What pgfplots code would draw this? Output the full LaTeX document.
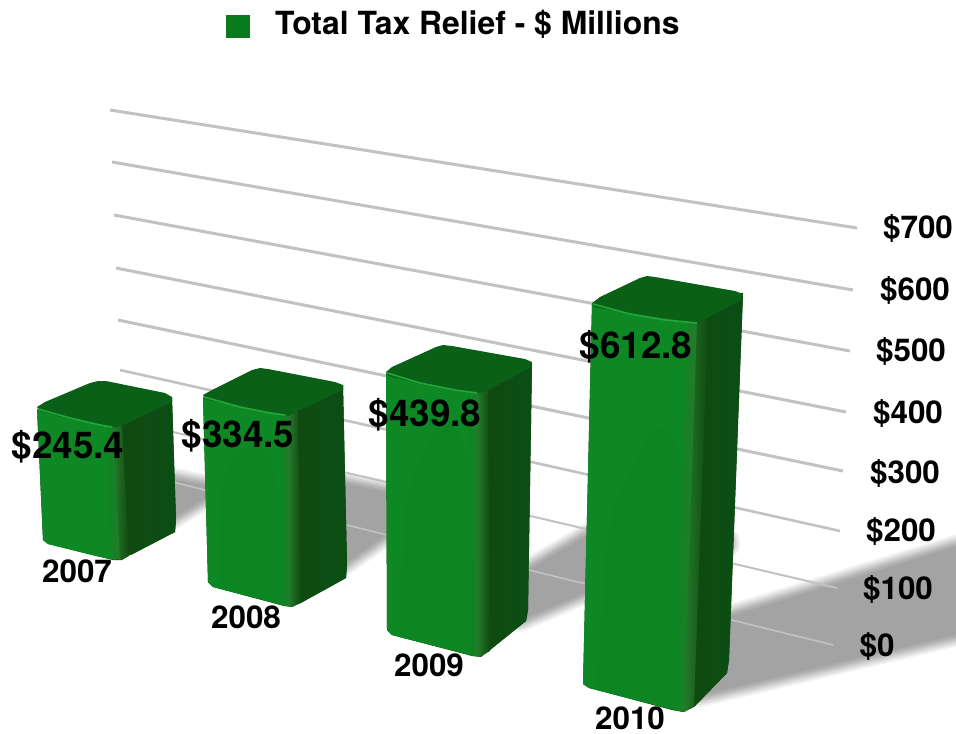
\documentclass[border=0pt]{standalone}
\usepackage{fontspec}
\setmainfont{TeX Gyre Heros}
\usepackage{pgfplots}
\pgfplotsset{compat=1.18}

\definecolor{legendgreen}{HTML}{0A7A1E}
\definecolor{frontgreen}{HTML}{0D8824}
\definecolor{sheen}{HTML}{0C8522}
\definecolor{ridgegreen}{HTML}{267A2C}
\definecolor{sidedark}{HTML}{104A10}
\definecolor{sideedge}{HTML}{0A4E14}
\definecolor{topgreen}{HTML}{0B6018}
\definecolor{hilite}{HTML}{22A83A}
\definecolor{gridgray}{HTML}{C2C2C2}

\pgfplotsset{
  base/.style={forget plot,draw=none,fill=sidedark},
  front/.style={forget plot,draw=none,fill=frontgreen},
  sheenface/.style={forget plot,draw=none,fill=sheen,smooth},
  stripa/.style={forget plot,draw=none,left color=sheen,right color=ridgegreen},
  stripb/.style={forget plot,draw=none,left color=ridgegreen,right color=sidedark},
  side/.style={forget plot,draw=none,left color=sidedark,right color=sideedge},
  topface/.style={forget plot,draw=none,fill=topgreen},
  edge/.style={forget plot,draw=hilite,line width=1.6bp,no marks},
  gridln/.style={forget plot,draw=gridgray,no marks,line width=#1},
}
\tikzset{
  val/.style={font=\fontsize{37}{37}\selectfont\bfseries,inner sep=0pt},
  yr/.style={font=\fontsize{31.5}{32}\selectfont\bfseries,inner sep=0pt},
}

% soft shadow: same polygons stroked wide, lightest first
\newcommand{\shadowlevel}[2]{%
  \addplot[forget plot,fill=#2,draw=#2,line width=#1,line join=round] coordinates {(165,478)(205,486)(205,498)(165,522)} --cycle;
  \addplot[forget plot,fill=#2,draw=#2,line width=#1,line join=round] coordinates {(320,500)(345,484)(385,492)(385,535)(345,563)(320,580)} --cycle;
  \addplot[forget plot,fill=#2,draw=#2,line width=#1,line join=round] coordinates {(520,575)(590,534)(728,540)(728,545)(590,590)(520,620)} --cycle;
  \addplot[forget plot,fill=#2,draw=#2,line width=#1,line join=round] coordinates {(700,626)(975,541)(975,630)(700,695)} --cycle;
}

\begin{document}
\begin{tikzpicture}
\useasboundingbox (0,0) rectangle (956bp,734bp);
\begin{axis}[
    at={(0,0)},anchor=south west,
    scale only axis,
    width=956bp,height=734bp,
    xmin=0,xmax=956,ymin=0,ymax=734,
    y dir=reverse,
    hide axis,
  ]

  \shadowlevel{24bp}{black!5}
  \shadowlevel{20bp}{black!11}
  \shadowlevel{16bp}{black!17}
  \shadowlevel{12bp}{black!23}
  \shadowlevel{8bp}{black!29}
  \shadowlevel{4bp}{black!33}
  \shadowlevel{0.1bp}{black!36}

  % gridlines $700 ... $0
  \addplot[gridln=3bp] coordinates {(110,110)(857,228)};
  \addplot[gridln=3bp] coordinates {(112,162)(853,290)};
  \addplot[gridln=3bp] coordinates {(114,215)(850,351)};
  \addplot[gridln=3bp] coordinates {(116,268)(846,412)};
  \addplot[gridln=3bp] coordinates {(118,320)(843,471)};
  \addplot[gridln=2.6bp] coordinates {(120,370)(840,531)};
  \addplot[gridln=2bp] coordinates {(122,420)(837,588)};
  \addplot[gridln=1.6bp] coordinates {(124,470)(833,645)};

  % 2007
  \addplot[base] coordinates {(37,409)(172,398)(176,520)(175,532)(130,555)(122,560)(113,560)(48,544)(43,540)} --cycle;
  \addplot[front] coordinates {(37,409)(114,427)(116,560)(100,557)(48,544)(43,540)} --cycle;
  \addplot[side] coordinates {(124,427)(172,398)(176,520)(175,532)(131,555)} --cycle;
  \addplot[stripa] coordinates {(106,425)(114,428)(121,560)(112,558)} --cycle;
  \addplot[stripb] coordinates {(113,428)(122,425)(129,556)(120,560)} --cycle;
  \addplot[topface] coordinates {(37,407)(45,402)(90,383)(98,381)(106,381)(165,393)(172,397)(172,402)(125,424)(115,427)(110,426)(70,419)(40,411)} --cycle;
  \addplot[edge] coordinates {(38,409)(70,418)(100,425)(112,427)};

  % 2008
  \addplot[base] coordinates {(203,397)(343,385)(347,565)(346,578)(300,603)(292,607)(284,606)(213,587)(208,582)} --cycle;
  \addplot[front] coordinates {(203,397)(287,415)(286,606)(213,587)(208,582)} --cycle;
  \addplot[sheenface] coordinates {(218,588)(220,500)(233,460)(255,445)(270,460)(281,510)(284,605)} --cycle;
  \addplot[side] coordinates {(298,412)(343,385)(347,565)(346,578)(301,603)} --cycle;
  \addplot[stripa] coordinates {(280,413)(289,416)(292,607)(282,605)} --cycle;
  \addplot[stripb] coordinates {(288,416)(298,411)(301,603)(291,607)} --cycle;
  \addplot[topface] coordinates {(203,395)(212,390)(252,370)(260,368)(268,369)(335,382)(343,385)(343,390)(300,410)(290,415)(285,415)(245,408)(205,399)} --cycle;
  \addplot[edge] coordinates {(204,397)(240,407)(270,413)(285,415)};

  % 2009
  \addplot[base] coordinates {(386,373)(532,362)(528,610)(526,621)(490,650)(481,657)(472,656)(392,635)(387,630)} --cycle;
  \addplot[front] coordinates {(386,373)(478,393)(474,656)(392,635)(387,630)} --cycle;
  \addplot[sheenface] coordinates {(399,637)(407,503)(430,440)(453,427)(468,473)(470,654)} --cycle;
  \addplot[side] coordinates {(488,388)(532,362)(528,610)(526,621)(490,650)} --cycle;
  \addplot[stripa] coordinates {(468,391)(478,393)(480,657)(469,655)} --cycle;
  \addplot[stripb] coordinates {(477,393)(488,387)(490,651)(479,657)} --cycle;
  \addplot[topface] coordinates {(386,372)(392,367)(436,347)(443,345)(452,346)(525,359)(532,362)(530,368)(490,389)(480,393)(476,393)(430,386)(388,376)} --cycle;
  \addplot[edge] coordinates {(387,373)(420,383)(455,390)(477,393)};

  % 2010
  \addplot[base] coordinates {(592,304)(743,293)(729,660)(727,673)(695,706)(683,712)(672,710)(589,688)(583,684)} --cycle;
  \addplot[front] coordinates {(592,304)(697,323)(679,711)(589,688)(583,684)} --cycle;
  \addplot[sheenface] coordinates {(597,690)(610,527)(637,460)(663,427)(687,493)(676,710)} --cycle;
  \addplot[side] coordinates {(708,317)(743,293)(729,660)(727,673)(694,707)} --cycle;
  \addplot[stripa] coordinates {(688,321)(698,323)(685,712)(674,710)} --cycle;
  \addplot[stripb] coordinates {(697,323)(708,316)(694,707)(684,712)} --cycle;
  \addplot[topface] coordinates {(592,303)(600,297)(640,278)(647,276)(655,277)(735,291)(743,294)(741,300)(705,319)(697,323)(690,322)(640,315)(594,307)} --cycle;
  \addplot[edge] coordinates {(593,304)(630,314)(665,320)(697,323)};

  % legend
  \addplot[forget plot,draw=none,fill=legendgreen] coordinates {(226,15)(250,15)(250,38)(226,38)} --cycle;
  \node[font=\fontsize{32}{32}\selectfont\bfseries,inner sep=0pt,anchor=west] at (axis cs:275,24) {Total Tax Relief - \$ Millions};

  \node[val] at (axis cs:68,447) {\$245.4};
  \node[val] at (axis cs:238,436) {\$334.5};
  \node[val] at (axis cs:425,415) {\$439.8};
  \node[val] at (axis cs:636,347) {\$612.8};

  \node[yr] at (axis cs:77,571) {2007};
  \node[yr] at (axis cs:246,617) {2008};
  \node[yr] at (axis cs:429,665) {2009};
  \node[yr] at (axis cs:630,718) {2010};

  \node[yr] at (axis cs:918,229) {\$700};
  \node[yr] at (axis cs:915,291) {\$600};
  \node[yr] at (axis cs:911,352) {\$500};
  \node[yr] at (axis cs:908,413) {\$400};
  \node[yr] at (axis cs:905,473) {\$300};
  \node[yr] at (axis cs:901,531) {\$200};
  \node[yr] at (axis cs:898,589) {\$100};
  \node[yr] at (axis cs:877,646) {\$0};
\end{axis}
\end{tikzpicture}
\end{document}
